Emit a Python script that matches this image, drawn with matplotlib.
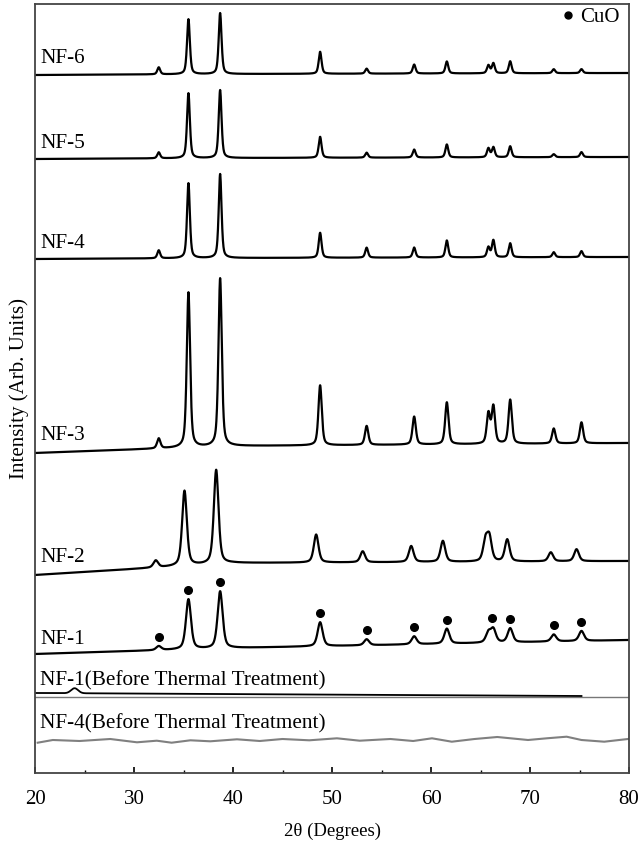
import numpy as np
import matplotlib
matplotlib.use("Agg")
import matplotlib.pyplot as plt
from matplotlib.lines import Line2D

plt.rcParams['font.family'] = ['Liberation Serif', 'DejaVu Serif']

# CuO reflections (2theta, degrees)
cuo_pos = [32.5, 35.5, 38.7, 48.8, 53.5, 58.3, 61.6, 65.8, 66.3, 68.0, 72.4, 75.2]
cuo_pos_nf2 = [32.2, 35.1, 38.3, 48.4, 53.1, 58.0, 61.2, 65.5, 65.9, 67.7, 72.1, 74.7]

# Peak intensities above background (arb. units)
nf6_int = [7, 55, 61, 22, 5, 9, 12, 8, 10, 12, 4, 4]
nf5_int = [6, 65, 68, 21, 5, 8, 13, 9, 10, 11, 3, 5]
nf4_int = [8, 75, 84, 25, 10, 10, 17, 10, 17, 14, 5, 6]
nf3_int = [10, 155, 168, 60, 19, 28, 42, 30, 37, 44, 15, 21]
nf2_int = [7, 75, 94, 28, 11, 16, 21, 20, 23, 22, 9, 12]
nf1_int = [4, 50, 57, 24, 6, 8, 15, 10, 13, 14, 7, 10]

# Peak half widths (degrees)
hw_nf6, hw_nf5, hw_nf4, hw_nf3, hw_nf2, hw_nf1 = 0.17, 0.17, 0.17, 0.2, 0.28, 0.3

# Background levels (at 20, 40 and 80 deg)
bg_x = [20, 40, 80]
nf6_bg = [698, 699, 700]
nf5_bg = [614, 615, 616]
nf4_bg = [514, 515, 516]
nf3_bg = [320, 327, 330]
nf2_bg = [198, 210, 212]
nf1_bg = [119, 125, 133]

# Amorphous precursor patterns
nf1_pre_bg = [80, 77]
nf1_pre_bump = (24.0, 5.0, 0.5)
nf1_pre_end = 75.2
nf1_pre_level = 76

nf4_pre_level = 33
nf4_pre_x = [20.27, 21.8, 24.5, 27.6, 30.3, 32.3, 33.8, 35.7, 37.7, 40.4, 42.7, 45.0,
             47.7, 50.5, 52.8, 55.9, 58.2, 60.1, 62.1, 64.4, 66.7, 69.8, 71.7, 73.7,
             75.2, 77.5, 79.9]
nf4_pre_y = [-2.7, 0, -1, 1, -2.3, -0.7, -2.7, -0.3, -1.3, 0.7, -1, 1,
             -0.3, 1.7, -0.7, 1, -1, 1.7, -1.7, 1, 3, 0, 1.7, 3.3,
             0, -1.7, 1]

labels = ["NF-6", "NF-5", "NF-4", "NF-3", "NF-2", "NF-1",
          "NF-1(Before Thermal Treatment)", "NF-4(Before Thermal Treatment)"]
label_y = [715, 630, 530, 338, 215, 133, 92, 49]

x = np.arange(20, 80.001, 0.02)


def pattern(pos, inten, hw, bg):
    y = np.interp(x, bg_x, bg).astype(float)
    for c, h in zip(pos, inten):
        u = (x - c) / hw
        y += h * (0.5 / (1 + u ** 2) + 0.5 * np.exp(-np.log(2) * u ** 2))
    return y


fig = plt.figure(figsize=(6.42, 8.43), dpi=100)
ax = fig.add_axes([35 / 642, 70 / 843, 594 / 642, 769 / 843])

series = [
    (cuo_pos, nf6_int, hw_nf6, nf6_bg),
    (cuo_pos, nf5_int, hw_nf5, nf5_bg),
    (cuo_pos, nf4_int, hw_nf4, nf4_bg),
    (cuo_pos, nf3_int, hw_nf3, nf3_bg),
    (cuo_pos_nf2, nf2_int, hw_nf2, nf2_bg),
    (cuo_pos, nf1_int, hw_nf1, nf1_bg),
]
curves = []
for pos, inten, hw, bg in series:
    y = pattern(pos, inten, hw, bg)
    curves.append(y)
    ax.plot(x, y, color='black', lw=1.6)

# CuO markers above the NF-1 reflections
nf1_curve = curves[-1]
dot_pos = [p for p in cuo_pos if p != 65.8]
dot_pos = [66.2 if p == 66.3 else p for p in dot_pos]
dot_y = np.interp(dot_pos, x, nf1_curve) + 9
ax.plot(dot_pos, dot_y, 'o', color='black', ms=5.5, ls='none')

# NF-1 before thermal treatment
ax.plot([20, 80], [nf1_pre_level, nf1_pre_level], color='#777777', lw=1.0)
xm = x[x <= nf1_pre_end]
yb = np.interp(xm, [20, nf1_pre_end], nf1_pre_bg)
c, h, w = nf1_pre_bump
yb = yb + h * np.exp(-((xm - c) / w) ** 2)
ax.plot(xm, yb, color='black', lw=1.3)

# NF-4 before thermal treatment
ax.plot(nf4_pre_x, np.array(nf4_pre_y) + nf4_pre_level, color='#808080', lw=1.5)

for lab, ly in zip(labels, label_y):
    ax.text(20.5, ly, lab, fontsize=15.3, va='center', ha='left')

handle = Line2D([], [], marker='o', color='black', ls='none', ms=5)
ax.legend([handle], ['CuO'], loc='upper right', bbox_to_anchor=(0.988, 0.998),
          frameon=False, fontsize=15, handletextpad=0.1, handlelength=1.0,
          borderaxespad=0.0, borderpad=0.1)

ax.set_xlim(20, 80)
ax.set_ylim(0, 769)
ax.set_yticks([])
ax.set_xticks(np.arange(20, 81, 10))
ax.set_xticks(np.arange(25, 80, 10), minor=True)
ax.tick_params(axis='x', which='major', direction='in', length=4, width=1.2,
               labelsize=15, pad=12)
ax.tick_params(axis='x', which='minor', direction='in', length=2.5, width=1.0)
for s in ax.spines.values():
    s.set_color('#444444')
    s.set_linewidth(1.3)
ax.set_xlabel("2θ (Degrees)", fontsize=13.5, labelpad=10)
ax.set_ylabel("Intensity (Arb. Units)", fontsize=15, labelpad=4)

fig.savefig("out.png", dpi=100)
